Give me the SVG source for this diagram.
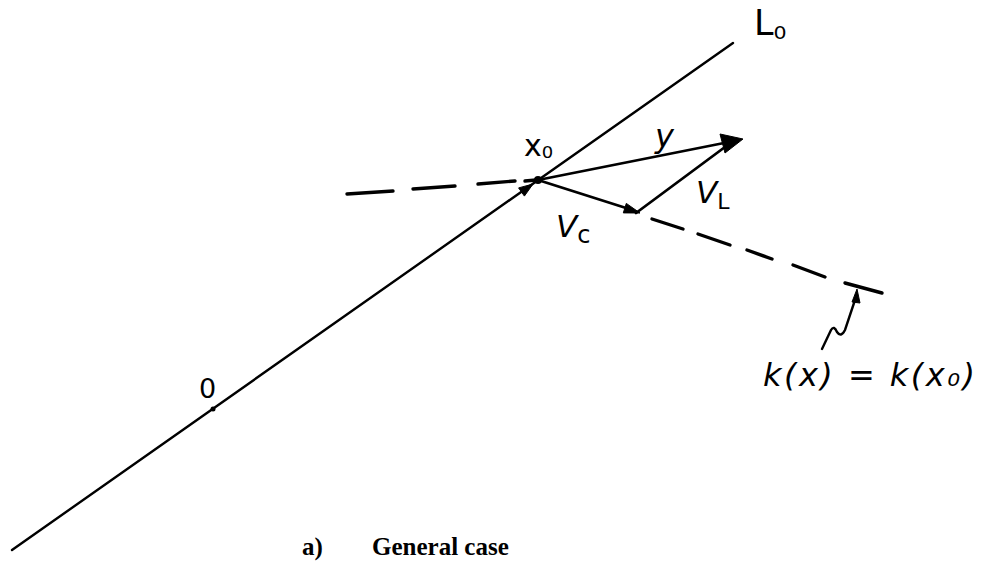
<svg xmlns="http://www.w3.org/2000/svg" width="981" height="569" viewBox="0 0 981 569">
<style>
.ln{stroke:#000;stroke-width:2.4;fill:none;stroke-linecap:round}
.vec{stroke:#000;stroke-width:2.8;fill:none;stroke-linecap:round}
.dash{stroke:#000;stroke-width:3.4;fill:none;stroke-linecap:round}
.hd{fill:#000;stroke:#000;stroke-width:1;stroke-linejoin:round}
.lbl{font-family:"DejaVu Sans",sans-serif;fill:#000}
.cap{font-family:"Liberation Serif",serif;font-weight:bold;fill:#000}
</style>
<rect width="981" height="569" fill="#fff"/>
<g id="connectors">
  <line class="ln" x1="12" y1="550" x2="733" y2="43"/>
  <polygon class="hd" points="533,184 524.4,196.1 518.6,187.9"/>
  <g id="tangent-dashed">
    <line class="dash" x1="347" y1="194" x2="393" y2="191"/>
    <line class="dash" x1="413" y1="189" x2="455" y2="186"/>
    <line class="dash" x1="478" y1="184" x2="515" y2="181"/>
    <line class="dash" x1="525" y1="181" x2="536" y2="180"/>
  </g>
  <g id="level-dashed">
    <line class="dash" x1="652" y1="219" x2="683" y2="229"/>
    <line class="dash" x1="698" y1="234" x2="730" y2="245"/>
    <line class="dash" x1="747" y1="250" x2="772" y2="259"/>
    <line class="dash" x1="793" y1="265" x2="825" y2="277"/>
    <line class="dash" x1="845" y1="283" x2="882" y2="293"/>
  </g>
  <line class="vec" x1="538" y1="180" x2="724" y2="143"/>
  <polygon class="hd" points="743,139 720,134 725,153"/>
  <line class="vec" x1="538" y1="180" x2="626" y2="208"/>
  <polygon class="hd" points="640,213 623.3,212.9 626.3,203.4"/>
  <line class="vec" x1="636" y1="213" x2="725" y2="147"/>
  <path class="ln" d="M822,349 L831,330 Q834,325 837,332 Q841,338 845,330 L855,300"/>
  <polygon class="hd" points="857,289 852,302 860,303"/>
</g>
<g id="node-x0">
  <circle cx="538" cy="180" r="4" fill="#000"/>
  <text class="lbl" x="524" y="156" font-size="30">x<tspan font-size="28" dy="2">₀</tspan></text>
</g>
<g id="node-origin">
  <circle cx="213" cy="409" r="2.5" fill="#000"/>
  <text class="lbl" x="199" y="398" font-size="27">0</text>
</g>
<g id="label-L0">
  <text class="lbl" x="754" y="35" font-size="35">L<tspan font-size="32" dy="4">₀</tspan></text>
</g>
<g id="label-y">
  <text class="lbl" x="655" y="147" font-size="32" font-style="italic">y</text>
</g>
<g id="label-VC">
  <text class="lbl" x="556" y="237" font-size="31" font-style="italic">V<tspan font-size="24" dy="6" font-style="normal">c</tspan></text>
</g>
<g id="label-VL">
  <text class="lbl" x="696" y="203" font-size="31" font-style="italic">V<tspan font-size="22" dy="6" font-style="normal">L</tspan></text>
</g>
<g id="label-k">
  <text class="lbl" x="763" y="386" font-size="32" font-style="italic" textLength="212" lengthAdjust="spacing">k(x) = k(x₀)</text>
</g>
<g id="caption">
  <text class="cap" x="302" y="555" font-size="25">a)</text>
  <text class="cap" x="372" y="555" font-size="25">General case</text>
</g>
</svg>
